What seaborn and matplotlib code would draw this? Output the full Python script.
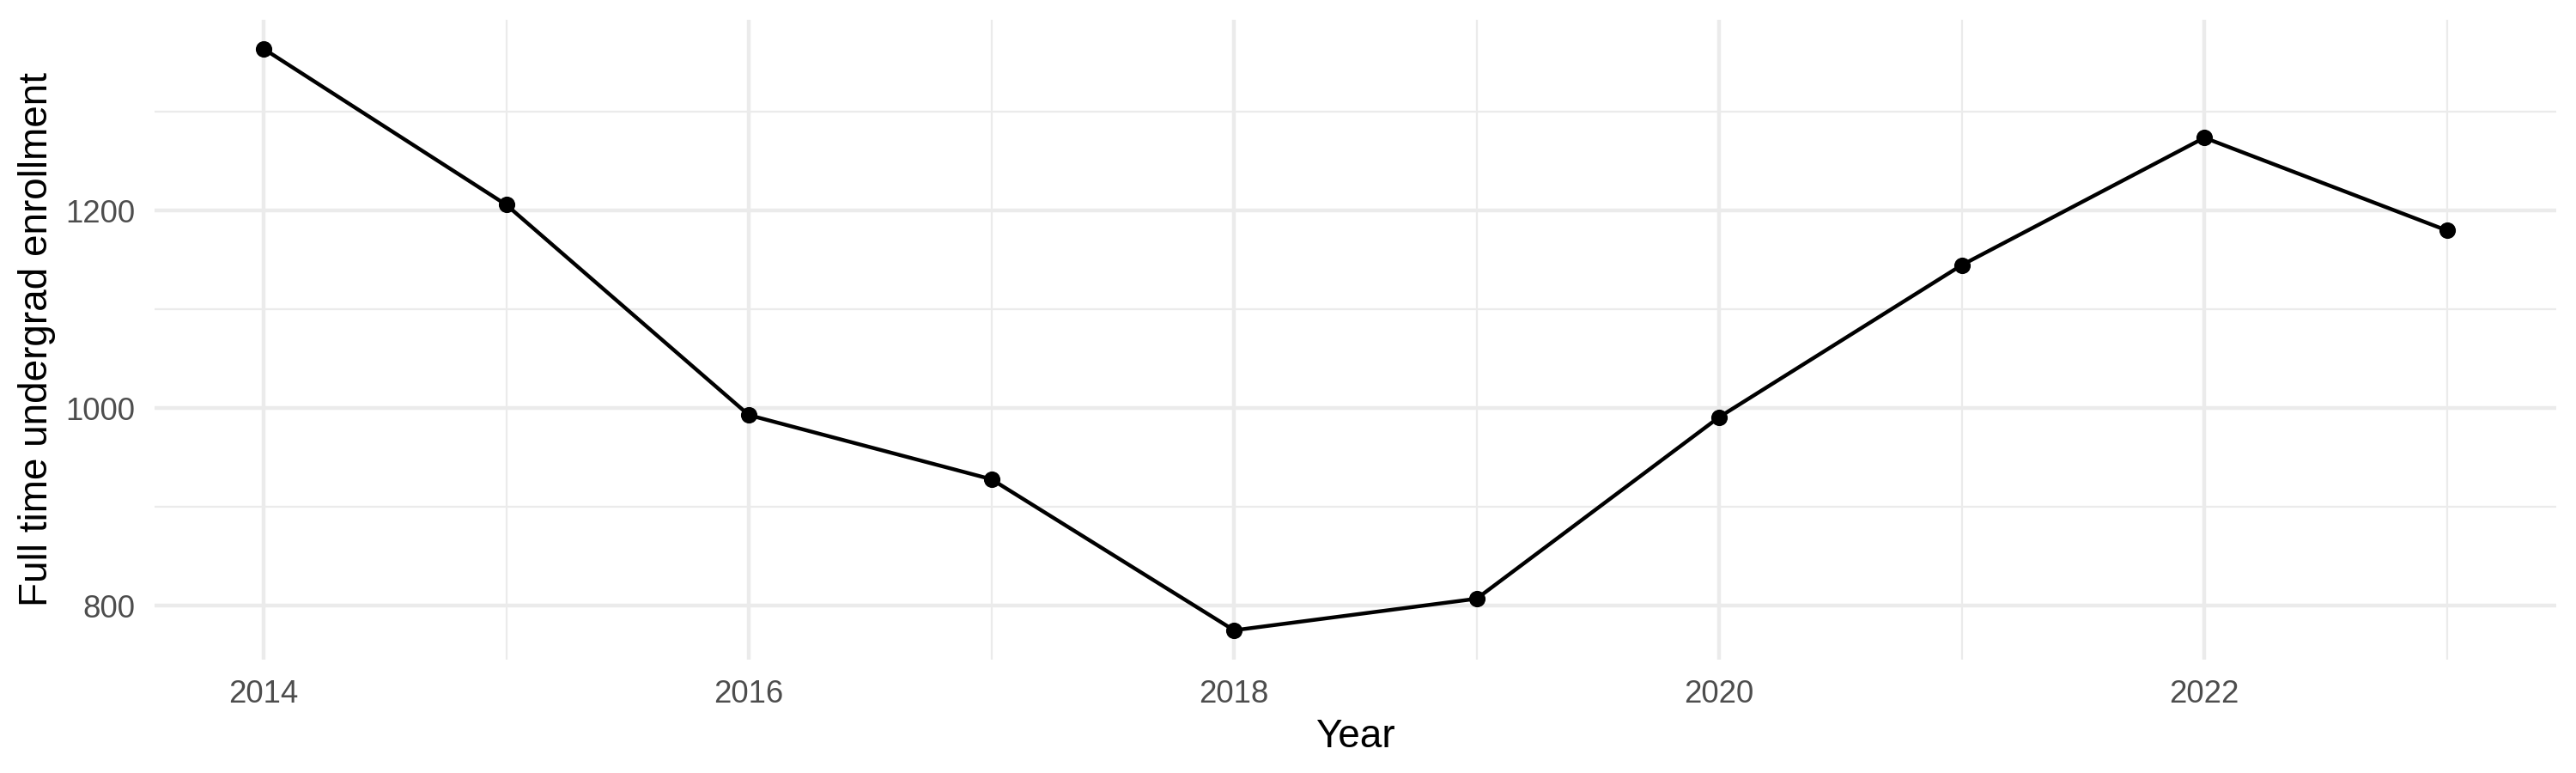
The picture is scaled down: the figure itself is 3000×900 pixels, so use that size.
import matplotlib
matplotlib.use("Agg")
import matplotlib.pyplot as plt
import seaborn as sns
import pandas as pd
from matplotlib.ticker import FixedLocator

years = [2014, 2015, 2016, 2017, 2018, 2019, 2020, 2021, 2022, 2023]
enrollment = [1364, 1206, 993, 928, 775, 807, 991, 1145, 1274, 1180]

df = pd.DataFrame({"Year": years, "Enrollment": enrollment})

sns.set_theme(style="white")
plt.rcParams["font.family"] = ["Liberation Sans", "DejaVu Sans"]

fig = plt.figure(figsize=(10, 3), dpi=300)
ax = fig.add_axes([0.060, 0.147, 0.9323, 0.8274])

sns.lineplot(data=df, x="Year", y="Enrollment", color="black", linewidth=1.07,
             marker="o", markersize=4.6, markeredgewidth=0, ax=ax, zorder=3)

xr = max(years) - min(years)
ax.set_xlim(min(years) - 0.05 * xr, max(years) + 0.05 * xr)
yr = max(enrollment) - min(enrollment)
ax.set_ylim(min(enrollment) - 0.05 * yr, max(enrollment) + 0.05 * yr)

ax.xaxis.set_major_locator(FixedLocator([2014, 2016, 2018, 2020, 2022]))
ax.xaxis.set_minor_locator(FixedLocator([2015, 2017, 2019, 2021, 2023]))
ax.yaxis.set_major_locator(FixedLocator([800, 1000, 1200]))
ax.yaxis.set_minor_locator(FixedLocator([900, 1100, 1300]))

ax.grid(which="major", color="#EBEBEB", linewidth=1.07)
ax.grid(which="minor", color="#EBEBEB", linewidth=0.53)
ax.set_axisbelow(True)
for s in ax.spines.values():
    s.set_visible(False)

ax.tick_params(which="both", length=0)
ax.tick_params(which="major", pad=5.5, labelsize=8.8, labelcolor="#4D4D4D")

ax.set_xlabel("Year", fontsize=11, color="black", labelpad=2.5)
ax.set_ylabel("Full time undergrad enrollment", fontsize=11, color="black", labelpad=2.6)

fig.savefig("out.png", dpi=300, facecolor="white")
